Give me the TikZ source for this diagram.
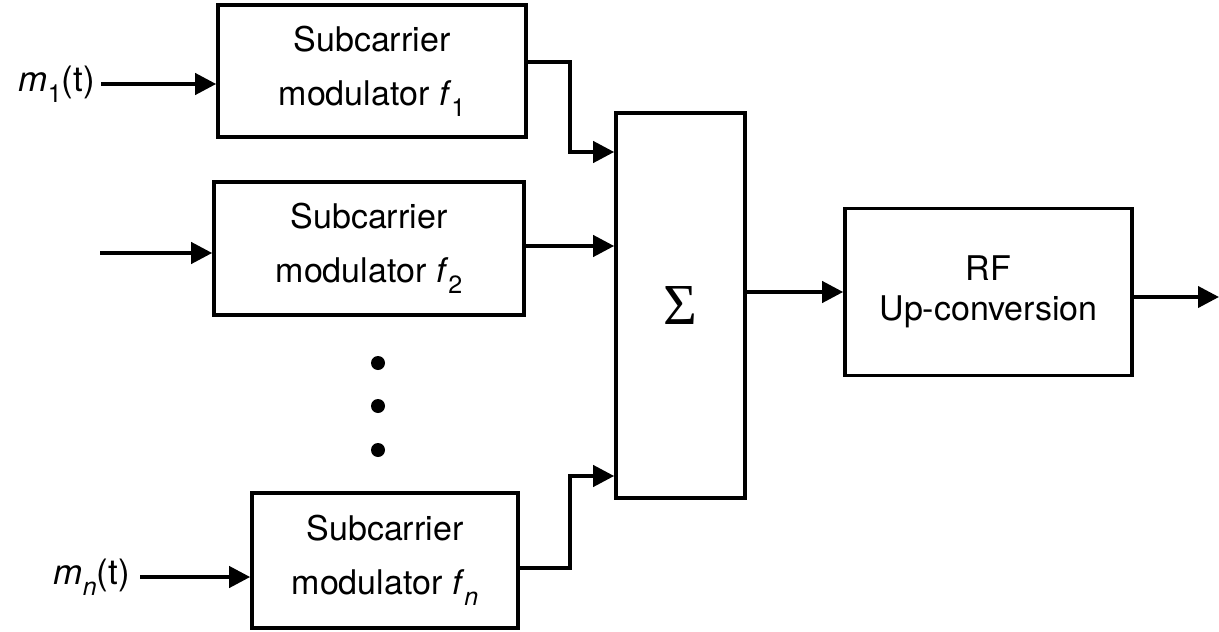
\documentclass[tikz,border=0pt]{standalone}
\usepackage{fontspec}
\setmainfont{TeX Gyre Heros}
\newfontfamily\sigmafont{Liberation Serif}
\usetikzlibrary{arrows.meta}
\newcommand{\subs}[1]{\raisebox{-0.32em}{\fontsize{25}{25}\selectfont #1}}
\begin{document}
\begin{tikzpicture}[x=1pt,y=-1pt,
  blk/.style={draw, line width=3.6pt, align=center, inner sep=0pt,
    font=\fontsize{34}{54}\selectfont},
  lbl/.style={font=\fontsize{35}{40}\selectfont, inner sep=0pt},
  arr/.style={line width=4pt, -{Triangle[length=21pt,width=21pt]}}]
\useasboundingbox (0,0) rectangle (1219,632);
\node[blk, minimum width=308pt, minimum height=132pt] (b1) at (372,71)
  {Subcarrier\\modulator \textit{f}\subs{1}};
\node[blk, minimum width=310pt, minimum height=133pt] (b2) at (369,248.5)
  {Subcarrier\\modulator \textit{f}\subs{2}};
\node[blk, minimum width=266pt, minimum height=135pt] (bn) at (385,560.5)
  {Subcarrier\\modulator \textit{f}\subs{\textit{n}}};
\node[blk, minimum width=129pt, minimum height=385pt,
  font=\fontsize{58}{60}\sigmafont] (sum) at (680.5,305.5) {Σ};
\node[blk, minimum width=287pt, minimum height=167pt,
  font=\fontsize{34}{40}\selectfont] (rf) at (988.5,292)
  {RF\\Up-conversion};
% inputs
\node[lbl, anchor=east] (lm1) at (95,84) {\textit{m}\subs{1}(t)};
\node[lbl, anchor=east] (lmn) at (130,577) {\textit{m}\subs{\textit{n}}(t)};
\coordinate (in1) at ([xshift=6pt]lm1.east);
\coordinate (inn) at ([xshift=10pt]lmn.east);
\coordinate (in2) at (100,253);
\draw[arr] (in1) -- (in1 -| b1.west);
\draw[arr] (in2) -- (in2 -| b2.west);
\draw[arr] (inn) -- (inn -| bn.west);
% to sum
\coordinate (j1) at (570,152);
\coordinate (jn) at (570,476);
\coordinate (o2) at ([yshift=2.5pt]b2.east);
\draw[arr] ([yshift=9pt]b1.east) -| (j1) -- (j1 -| sum.west);
\draw[arr] (o2) -- (o2 -| sum.west);
\draw[arr] ([yshift=-7.5pt]bn.east) -| (jn) -- (jn -| sum.west);
% sum to rf
\coordinate (so) at ([yshift=13.5pt]sum.east);
\draw[arr] (so) -- (so -| rf.west);
\coordinate (out) at (1219,297);
\draw[arr] (out -| rf.east) -- (out);
% dots
\foreach \yy/\nm in {363/d1,406/d2,450/d3}
  \fill (378,\yy) circle (7pt) coordinate (\nm);
\end{tikzpicture}
\end{document}
